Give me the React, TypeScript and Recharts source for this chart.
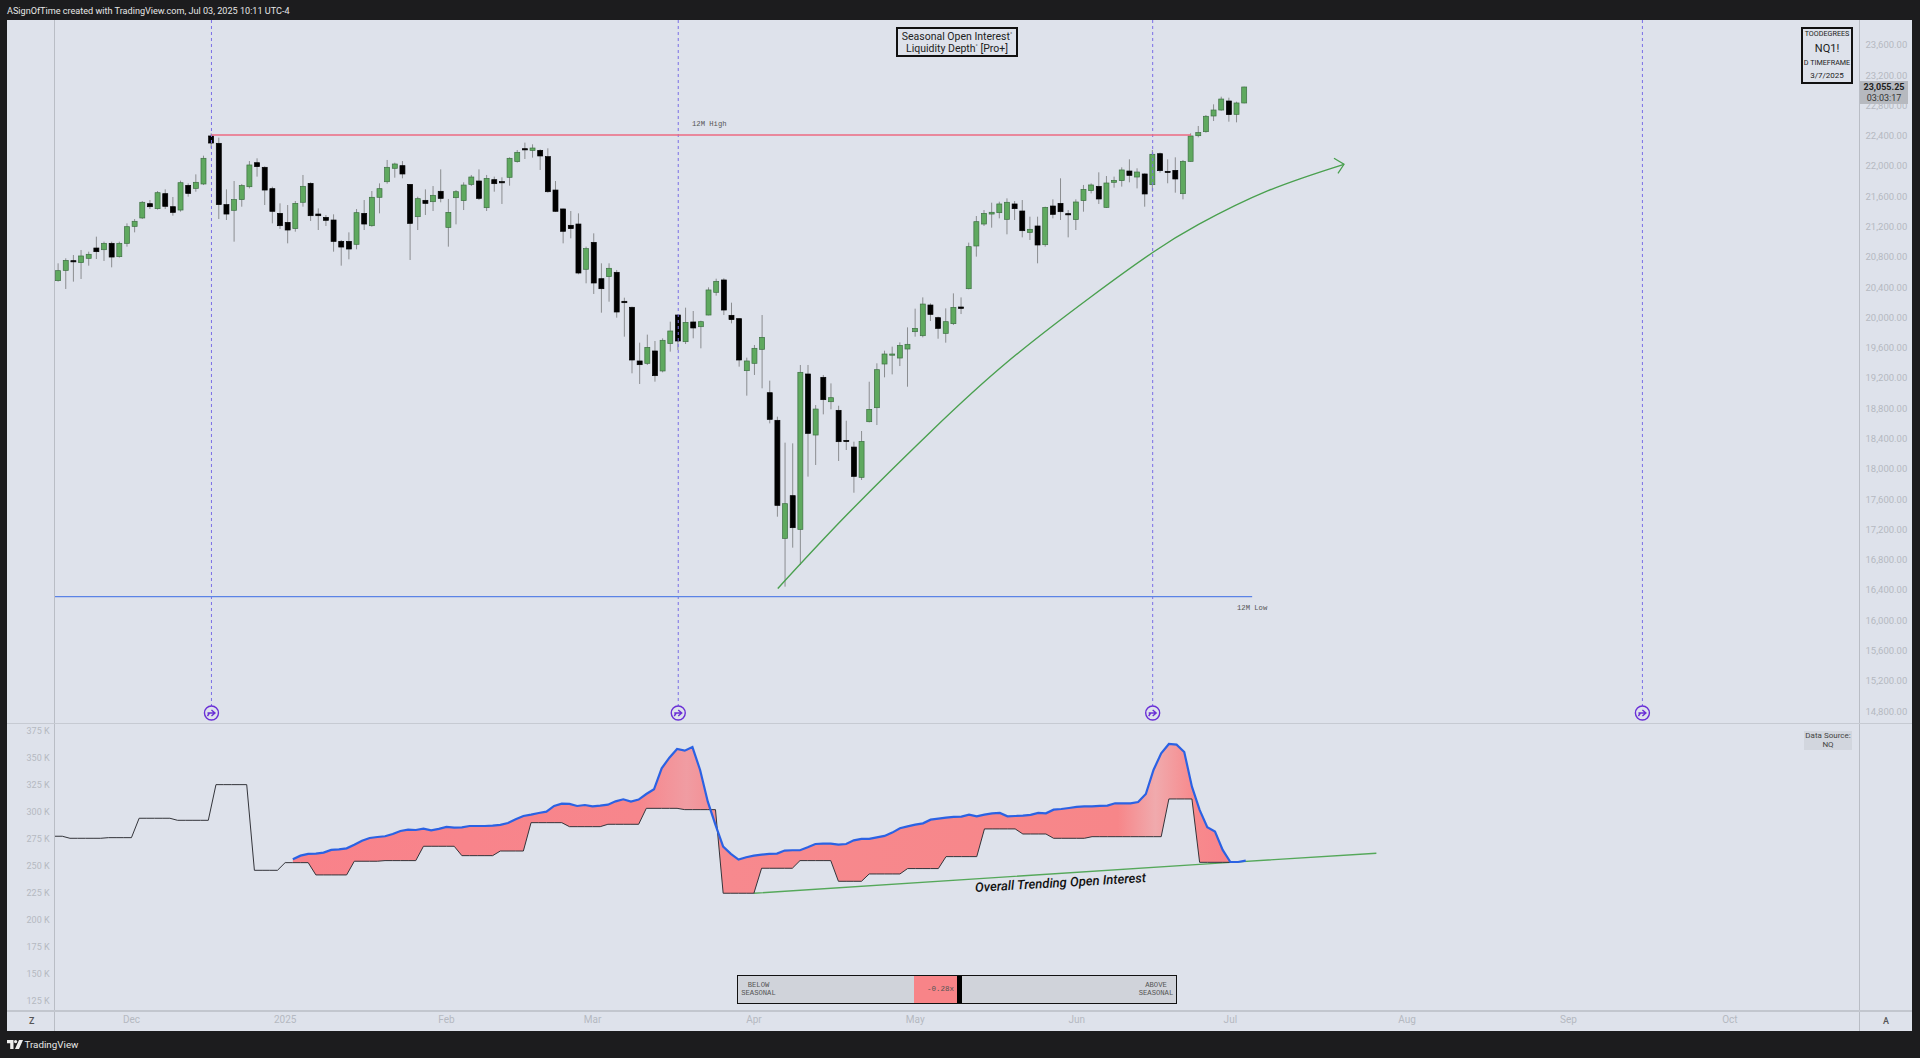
import React from "react";
import { ComposedChart, Bar, Line, Area, XAxis, YAxis, ReferenceLine, ReferenceDot } from "recharts";

const candleOpen = [20487,20623,20751,20725,20782,20918,20896,20980,20804,20980,21204,21315,21504,21438,21636,21464,21420,21746,21706,21764,22398,22301,21491,21416,21557,21728,22045,21984,21702,21376,21257,21174,21522,21772,21367,21323,21288,21006,21006,20967,21376,21213,21588,21794,21971,22006,21759,21332,21548,21530,21667,21191,21583,21544,21759,21803,21451,21821,21795,21852,22059,22230,22208,22208,22125,21684,21434,21218,21235,20637,20993,20513,20540,20597,20214,20135,19426,19395,19558,19294,19655,20033,19681,19941,19879,20033,20333,20496,20029,19985,19298,19395,19580,19007,18642,17083,17647,17202,19254,18448,19210,18888,18774,18377,18289,17889,18624,18809,19386,19505,19465,19584,19813,19760,20165,19998,19791,19919,20139,20381,20945,21235,21367,21385,21297,21500,21407,21125,21209,20962,21473,21508,21372,21293,21544,21676,21733,21455,21786,21808,21935,21856,21896,21755,22164,21931,21944,21636,22063,22402,22455,22662,22741,22860,22684,22834];
const candleClose = [20619,20755,20738,20813,20835,20870,20980,20799,20980,21200,21271,21522,21464,21649,21469,21389,21781,21640,21786,22103,22305,21491,21367,21557,21742,22015,21993,21684,21403,21213,21156,21508,21733,21345,21345,21284,21006,20931,20905,21385,21235,21588,21702,21984,22028,21896,21244,21570,21508,21614,21574,21389,21662,21750,21856,21574,21838,21768,21781,22103,22182,22217,22239,22134,21662,21403,21139,21174,20588,20910,20456,20381,20650,20073,20196,19439,19377,19606,19232,19699,19822,19690,19936,19862,19945,20364,20478,20099,19972,19439,19426,19593,19738,18655,17519,17541,17224,19276,18470,18791,18915,18941,18360,18364,17902,18364,18787,19311,19518,19518,19632,19646,19857,20178,20042,19857,19945,20134,20121,20936,21266,21376,21390,21500,21522,21438,21147,21165,20958,21455,21363,21398,21363,21526,21693,21751,21566,21777,21812,21949,21878,21922,21632,22156,21940,21918,21830,22063,22398,22442,22658,22741,22886,22680,22834,23045];
const candleHigh = [20716,20782,20826,20892,20870,21068,21002,21002,21002,21244,21301,21539,21552,21671,21693,21592,21808,21772,21891,22138,22433,22376,21693,21803,21764,22067,22103,21997,21728,21508,21486,21539,21883,21786,21442,21354,21363,21024,21125,21433,21552,21671,21772,22081,22045,22067,21759,21596,21693,21737,21957,21566,21684,21786,21883,21957,21883,21861,21852,22116,22213,22310,22288,22222,22235,21803,21438,21407,21376,20936,21112,20716,20716,20628,20262,20143,19668,19774,19690,19725,19945,20042,20130,20086,19958,20399,20513,20518,20196,19989,19470,19637,20033,19166,18690,18347,18338,19373,19373,18844,19241,19130,18835,18637,18360,18501,19152,19395,19562,19615,19672,19870,20117,20266,20187,20011,20121,20319,20266,20989,21341,21420,21517,21530,21574,21539,21552,21332,21332,21464,21561,21839,21420,21561,21751,21772,21918,21869,21861,21984,22090,21971,21905,22213,22178,22090,22116,22081,22433,22530,22675,22816,22917,22904,22851,23049];
const candleLow = [20474,20377,20474,20509,20685,20773,20747,20663,20791,20936,21125,21301,21433,21425,21433,21345,21398,21596,21662,21750,22235,21301,21288,21002,21464,21706,21861,21486,21244,21169,20980,21134,21464,21275,21156,21209,20870,20685,20769,20901,21156,21200,21376,21768,21847,21839,20760,21156,21354,21407,21522,20936,21231,21420,21737,21552,21407,21662,21500,21742,22046,22094,22112,21949,21649,21394,20980,21046,20571,20452,20311,20064,20209,19998,19747,19263,19122,19373,19153,19276,19549,19571,19650,19725,19593,20029,20289,20033,19923,19351,18968,19241,19065,18602,17369,16445,16960,16731,17898,18052,18721,18787,18105,18250,17686,17854,18615,18580,19210,19249,19359,19086,19747,19738,19954,19720,19668,19901,20046,20372,20804,21209,21187,21310,21099,21288,21059,21024,20716,20936,21310,21288,21059,21156,21398,21640,21500,21447,21715,21729,21786,21706,21464,21662,21913,21773,21649,21561,22059,22380,22442,22596,22732,22587,22578,22829];

const seasonalOI = [277.6,277.6,275.7,275.7,275.7,275.7,275.7,276.3,276.3,276.3,276.3,294.3,294.3,294.3,294.3,294.3,292.4,292.4,292.4,292.4,292.4,325.5,325.5,325.5,325.5,325.5,246,246,246,246,253.1,253.1,253.1,253.1,241.7,241.7,241.7,241.7,241.7,254.4,254.4,254.4,254.4,255,255,255,255,255,268.3,268.3,268.3,268.3,268.3,259.6,259.6,259.6,259.6,259.6,263.9,263.9,263.9,263.9,290.2,290.2,290.2,290.2,290.2,286.5,286.5,286.5,286.5,286.5,288.7,288.7,288.7,288.7,288.7,303.5,303.5,303.5,303.5,303.5,302.3,302.3,302.3,302.3,302.3,224.7,224.7,224.7,224.7,224.7,247.9,247.9,247.9,247.9,247.9,255,255,255,255,255,235.8,235.8,235.8,235.8,242.6,242.6,242.6,242.6,242.6,247.6,247.6,247.6,247.6,247.6,258.7,258.7,258.7,258.7,258.7,284.4,284.4,284.4,284.4,284.4,279.7,279.7,279.7,279.7,275.7,275.7,275.7,275.7,275.7,277.2,277.2,277.2,277.2,277.2,277.2,277.2,277.2,277.2,277.2,312.2,312.2,312.2,312.2,253.4,253.4,253.4,253.4,253.4];
const openInterestStart = 31;
const openInterest = [256.2,259.6,261.2,261.5,262.4,264.9,265.5,266.4,269.8,273.5,276,276.9,277.6,279.7,282.5,283.7,283.4,284.7,283.1,284.4,286.2,285.6,285.9,287.1,287.1,287.1,287.5,288.1,289.9,293.3,296.4,297.7,299.2,300.4,305.7,307.9,307.6,305.7,306.6,305.4,306,306.9,310,311.9,309.7,311.6,316.8,321.2,340.7,350.5,358.6,357,360.4,339.1,309.7,288.1,268,261.2,255.9,258.1,259.6,260.5,261.2,261.5,264.3,264.6,264.6,267.4,270.4,270.8,270.8,269.8,270.4,273.8,275.1,275.1,276.6,277.9,281,285,286.8,288.4,289.6,293,294,294.9,295.5,295.8,297.7,296.1,297.7,298.9,299.2,296.1,296.4,296.7,297.4,299.2,298.9,302.3,302.9,303.8,304.8,305.4,305.4,305.7,306,308.2,308.2,308.2,309.4,316.8,339.1,354.6,363.2,362.6,355.8,323.6,302,285.9,281.9,264.9,253.7,253.7,255];
const arcIndex = [94,103,114,124,135,143,149,158,168];
const arcPrice = [16420,17391,18492,19412,20278,20859,21229,21672,22024];
const trendIndex = [91,153,172];
const trendOI = [224.7,253.4,261.8];

const sessionMarks = [20,81,143,207];
const priceTicks = [14800,15200,15600,16000,16400,16800,17200,17600,18000,18400,18800,19200,19600,20000,20400,20800,21200,21600,22000,22400,22800,23200,23600];
const oiTicks = [125,150,175,200,225,250,275,300,325,350,375];
const monthTicks = [10,30,51,70,91,112,133,153,176,197,218];
const monthNames = ["Dec","2025","Feb","Mar","Apr","May","Jun","Jul","Aug","Sep","Oct"];
const TOTAL_SLOTS = 236;
const HIGH_12M = 22411;
const LOW_12M = 16312;
const PRICE_DOMAIN = [14644, 23930];
const OI_DOMAIN = [115.7, 382.7];
const MARK_PRICE = 14776;

const rows = Array.from({ length: TOTAL_SLOTS }, (_, idx) => {
  const arcAt = arcIndex.indexOf(idx);
  const trendAt = trendIndex.indexOf(idx);
  const oi = idx >= openInterestStart ? openInterest[idx - openInterestStart] ?? null : null;
  const season = seasonalOI[idx] ?? null;
  return {
    idx,
    open: candleOpen[idx] ?? null,
    close: candleClose[idx] ?? null,
    high: candleHigh[idx] ?? null,
    low: candleLow[idx] ?? null,
    range: candleHigh[idx] != null ? [candleLow[idx], candleHigh[idx]] : null,
    arc: arcAt >= 0 ? arcPrice[arcAt] : null,
    season,
    oi,
    band: oi != null && season != null ? [season, oi] : null,
    trend: trendAt >= 0 ? trendOI[trendAt] : null,
  };
});

const BG = "#dee2eb";
const DARK = "#1c1c1e";
const AXIS = "#b9bdc5";
const TICK = "#b5b9c1";
const UI = "Roboto, sans-serif";
const MONO = "'Liberation Mono', monospace";

function Candle(props: any) {
  const { x, y, width, height, payload } = props;
  if (!payload || payload.open == null || !Number.isFinite(y)) return null;
  const top = Math.min(y, y + height);
  const h = Math.abs(height);
  const at = (v: number) => top + ((payload.high - v) / (payload.high - payload.low)) * h;
  const cx = x + width / 2;
  const up = payload.close >= payload.open;
  const by = at(Math.max(payload.open, payload.close));
  const bh = Math.max(at(Math.min(payload.open, payload.close)) - by, 1.2);
  return (
    <g>
      <line x1={cx} x2={cx} y1={top} y2={top + h} stroke="#8b8d90" strokeWidth={1} />
      <rect x={cx - 2.5} y={by} width={5} height={bh} fill={up ? "#5fa95f" : "#000"} stroke={up ? "#3d6f42" : "#000"} strokeWidth={0.7} />
    </g>
  );
}

function SessionMark(props: any) {
  const { cx, cy } = props;
  return (
    <g fill="none" stroke="#6a2fd6">
      <circle cx={cx} cy={cy} r={7} fill={BG} strokeWidth={1.4} />
      <path d={`M${cx - 4} ${cy}H${cx + 3.5}M${cx} ${cy - 3}L${cx + 3.5} ${cy}L${cx} ${cy + 3}M${cx - 4} ${cy + 3}L${cx - 2} ${cy}`} strokeWidth={1.4} />
    </g>
  );
}

function ArcDot(props: any) {
  const { cx, cy, payload, index } = props;
  if (!payload || payload.idx !== arcIndex[arcIndex.length - 1]) return <g key={index} />;
  return <path key={index} d={`M${cx - 10} ${cy - 6}L${cx} ${cy}L${cx - 6} ${cy + 9}`} fill="none" stroke="#4aa04f" strokeWidth={1.3} />;
}

function FullBleedLine(props: any) {
  const { x1, y1, x2, y2 } = props;
  return <line x1={x1 - 4} x2={x2} y1={y1} y2={y2} stroke="#5b83e6" strokeWidth={1.2} />;
}

const abs = (s: any): React.CSSProperties => ({ position: "absolute", ...s });

function TextBox({ style, children }: any) {
  return <div style={abs({ fontFamily: UI, color: "#222", textAlign: "center", boxSizing: "border-box", ...style })}>{children}</div>;
}

const Deg = () => <sup style={{ fontSize: 6, lineHeight: 0, verticalAlign: "4px" }}>°</sup>;

export default function App() {
  return (
    <div style={abs({ left: 0, top: 0, width: 1920, height: 1058, background: DARK, overflow: "hidden" })}>
      <div style={abs({ left: 7, top: 3, color: "#e6e6e6", fontFamily: UI, fontSize: 9.1, lineHeight: "17px", whiteSpace: "nowrap" })}>
        ASignOfTime created with TradingView.com, Jul 03, 2025 10:11 UTC-4
      </div>
      <div style={abs({ left: 7, top: 20, width: 1905, height: 1011, background: BG })} />

      <div style={abs({ left: 7, top: 20 })}>
        <ComposedChart width={1905} height={703} data={rows} margin={{ top: 0, right: 0, bottom: 0, left: 47.6 }} barCategoryGap={0}>
          <XAxis dataKey="idx" type="category" hide />
          <YAxis
            yAxisId="p"
            orientation="right"
            width={51.5}
            domain={PRICE_DOMAIN}
            allowDataOverflow
            ticks={priceTicks}
            interval={0}
            axisLine={false}
            tickLine={false}
            tickSize={0}
            tickMargin={5}
            tick={{ fill: TICK, fontSize: 9.5, fontFamily: UI }}
            tickFormatter={(v: number) => v.toLocaleString("en-US", { minimumFractionDigits: 2 })}
          />
          {sessionMarks.map((m) => (
            <ReferenceLine key={`v${m}`} yAxisId="p" segment={[{ x: m, y: PRICE_DOMAIN[1] }, { x: m, y: MARK_PRICE }]} stroke="#7b6fe6" strokeDasharray="3 3" strokeWidth={1} ifOverflow="visible" />
          ))}
          <ReferenceLine yAxisId="p" segment={[{ x: 20, y: HIGH_12M }, { x: 148, y: HIGH_12M }]} stroke="#ec6a82" strokeWidth={1.4} />
          <ReferenceLine yAxisId="p" segment={[{ x: 0, y: LOW_12M }, { x: 156, y: LOW_12M }]} shape={(p: any) => <FullBleedLine {...p} />} />
          <Bar yAxisId="p" dataKey="range" barSize={5} shape={<Candle />} isAnimationActive={false} />
          <Line yAxisId="p" dataKey="arc" type="natural" stroke="#4aa04f" strokeWidth={1.4} connectNulls dot={(p: any) => <ArcDot {...p} />} activeDot={false} isAnimationActive={false} />
          {sessionMarks.map((m) => (
            <ReferenceDot key={`d${m}`} yAxisId="p" x={m} y={MARK_PRICE} r={7} shape={<SessionMark />} ifOverflow="visible" />
          ))}
        </ComposedChart>
      </div>

      <div style={abs({ left: 7, top: 723 })}>
        <ComposedChart width={1905} height={308} data={rows} margin={{ top: 0, right: 51.5, bottom: 0, left: 0 }}>
          <defs>
            <linearGradient id="oiFill" x1="0" x2="1" y1="0" y2="0">
              <stop offset="0" stopColor="#f9828a" />
              <stop offset="0.37" stopColor="#f7868c" />
              <stop offset="0.42" stopColor="#f09ca2" />
              <stop offset="0.46" stopColor="#f7898e" />
              <stop offset="0.88" stopColor="#f78689" />
              <stop offset="0.92" stopColor="#f0aaad" />
              <stop offset="0.96" stopColor="#f78a8d" />
              <stop offset="1" stopColor="#f9828a" />
            </linearGradient>
          </defs>
          <XAxis
            dataKey="idx"
            type="category"
            height={20.3}
            ticks={monthTicks}
            interval={0}
            axisLine={false}
            tickLine={false}
            tickSize={0}
            tickMargin={5}
            tick={{ fill: TICK, fontSize: 10, fontFamily: UI }}
            tickFormatter={(v: number) => monthNames[monthTicks.indexOf(v)] ?? ""}
          />
          <YAxis
            width={47.6}
            domain={OI_DOMAIN}
            allowDataOverflow
            ticks={oiTicks}
            interval={0}
            axisLine={false}
            tickLine={false}
            tickSize={0}
            tickMargin={5}
            tick={{ fill: TICK, fontSize: 9, fontFamily: UI }}
            tickFormatter={(v: number) => `${v} K`}
          />
          <Area dataKey="band" type="linear" fill="url(#oiFill)" fillOpacity={1} stroke="none" dot={false} activeDot={false} isAnimationActive={false} />
          <Line dataKey="trend" type="linear" stroke="#55a85a" strokeWidth={1.3} connectNulls dot={false} activeDot={false} isAnimationActive={false} />
          <Line dataKey="season" type="linear" stroke="#33343a" strokeWidth={1} dot={false} activeDot={false} isAnimationActive={false} />
          <Line dataKey="oi" type="linear" stroke="#2b62e3" strokeWidth={2.2} dot={false} activeDot={false} isAnimationActive={false} />
        </ComposedChart>
      </div>

      {/* pane rules */}
      <div style={abs({ left: 54, top: 20, width: 1, height: 1011, background: AXIS })} />
      <div style={abs({ left: 1859, top: 20, width: 1, height: 1011, background: AXIS })} />
      <div style={abs({ left: 7, top: 723, width: 1905, height: 1, background: "#c6cad2" })} />
      <div style={abs({ left: 7, top: 1010, width: 1905, height: 1.5, background: "#c2c6ce" })} />

      <div style={abs({ left: 692, top: 119, fontFamily: MONO, fontSize: 7.2, color: "#555", lineHeight: "10px" })}>12M High</div>
      <div style={abs({ left: 1237, top: 603, fontFamily: MONO, fontSize: 7.2, color: "#555", lineHeight: "10px" })}>12M Low</div>

      <TextBox style={{ left: 896, top: 27, width: 122, height: 30, border: "2px solid #111", fontSize: 10.5, lineHeight: "12.5px", paddingTop: 1.5, whiteSpace: "nowrap" }}>
        Seasonal Open Interest<Deg /><br />Liquidity Depth<Deg /> [Pro+]
      </TextBox>

      <div style={abs({ left: 1801, top: 27, width: 52, height: 56.5, border: "2px solid #111", boxSizing: "border-box" })} />
      <TextBox style={{ left: 1801, width: 52, top: 28, fontSize: 7.2, lineHeight: "12px" }}>TOODEGREES</TextBox>
      <TextBox style={{ left: 1801, width: 52, top: 41, fontSize: 11, lineHeight: "16px" }}>NQ1!</TextBox>
      <TextBox style={{ left: 1801, width: 52, top: 57, fontSize: 7.2, lineHeight: "12px", whiteSpace: "nowrap" }}>D TIMEFRAME</TextBox>
      <TextBox style={{ left: 1801, width: 52, top: 70, fontSize: 8, lineHeight: "12px" }}>3/7/2025</TextBox>

      <TextBox style={{ left: 1860, top: 81, width: 48, height: 23, background: "#b6b9bf", fontSize: 9, lineHeight: "11px", paddingTop: 1 }}>
        <b>23,055.25</b><br /><span style={{ color: "#333" }}>03:03:17</span>
      </TextBox>

      <TextBox style={{ left: 1804, top: 731, width: 48, height: 19, background: "#d2d6de", fontSize: 8, lineHeight: "8.5px", paddingTop: 1, color: "#444", whiteSpace: "nowrap" }}>
        Data Source:<br />NQ
      </TextBox>

      <div style={abs({ left: 975, top: 874, transform: "rotate(-3.3deg)", fontFamily: UI, fontStyle: "italic", fontWeight: 500, fontSize: 13, lineHeight: "18px", color: "#111", whiteSpace: "nowrap" })}>
        Overall Trending Open Interest
      </div>

      <div style={abs({ left: 737, top: 975, width: 440, height: 29, background: "#d0d3da", border: "1.5px solid #111", boxSizing: "border-box" })} />
      <div style={abs({ left: 914, top: 976, width: 43, height: 27, background: "#f88488" })} />
      <div style={abs({ left: 957, top: 976, width: 5, height: 27, background: "#000" })} />
      <div style={abs({ left: 927, top: 984, fontFamily: MONO, fontSize: 7.5, color: "#555", lineHeight: "10px" })}>-0.28x</div>
      <div style={abs({ left: 741, top: 982, width: 35, textAlign: "center", fontFamily: MONO, fontSize: 7.2, color: "#555", lineHeight: "7.5px" })}>BELOW<br />SEASONAL</div>
      <div style={abs({ left: 1138, top: 982, width: 36, textAlign: "center", fontFamily: MONO, fontSize: 7.2, color: "#555", lineHeight: "7.5px" })}>ABOVE<br />SEASONAL</div>

      <div style={abs({ left: 29, top: 1014, fontFamily: UI, fontSize: 9, fontWeight: 500, color: "#555", lineHeight: "14px" })}>Z</div>
      <div style={abs({ left: 1883, top: 1014, fontFamily: UI, fontSize: 9, fontWeight: 500, color: "#555", lineHeight: "14px" })}>A</div>

      <svg width={16} height={10} style={abs({ left: 7, top: 1040 })} viewBox="0 0 16 10">
        <path d="M0 0H6.5V9H3.2V3.2H0Z M12 0H16L12 9H8Z" fill="#eee" />
        <circle cx="8.6" cy="1.6" r="1.6" fill="#eee" />
      </svg>
      <div style={abs({ left: 24.5, top: 1037, color: "#e8e8e8", fontFamily: UI, fontSize: 9.8, lineHeight: "16px" })}>TradingView</div>
    </div>
  );
}
